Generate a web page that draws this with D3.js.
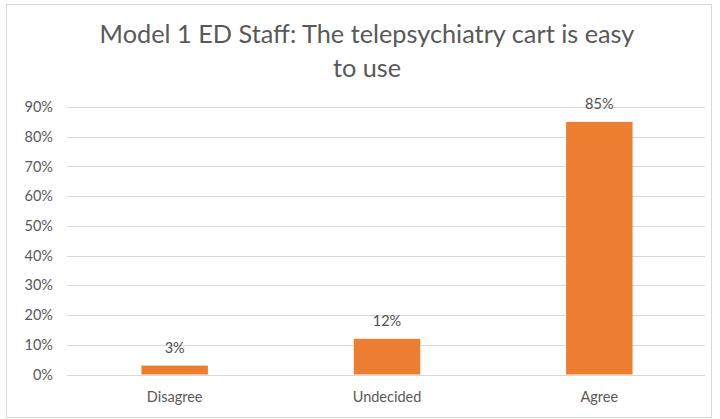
<!DOCTYPE html>
<html>
<head>
<meta charset="utf-8">
<script src="https://cdn.jsdelivr.net/npm/d3@7"></script>
<style>
  html, body { margin: 0; padding: 0; background: #fff; }
  svg { display: block; }
  text { font-family: Lato, "Open Sans", sans-serif; }
</style>
</head>
<body>
<svg id="chart" width="720" height="419"></svg>
<script>
const categories = ["Disagree", "Undecided", "Agree"];
const values = [0.03, 0.12, 0.85];
const valueLabels = ["3%", "12%", "85%"];
const yTicks = [0, 0.1, 0.2, 0.3, 0.4, 0.5, 0.6, 0.7, 0.8, 0.9];
const titleLines = ["Model 1 ED Staff: The telepsychiatry cart is easy", "to use"];

const svg = d3.select("#chart");
const plot = { left: 67, right: 705, top: 107, bottom: 374.5 };

// outer border
svg.append("rect").attr("x", 6.5).attr("y", 4.5).attr("width", 705).attr("height", 413)
  .attr("fill", "#fff").attr("stroke", "#d9d9d9").attr("stroke-width", 1);

const x = d3.scaleBand().domain(categories).range([plot.left + 1.5, plot.right + 0.5])
  .paddingInner(0.687).paddingOuter(0.3435);
const y = d3.scaleLinear().domain([0, 0.9]).range([plot.bottom, plot.top]);

// gridlines
svg.append("g").selectAll("line").data(yTicks).join("line")
  .attr("x1", plot.left).attr("x2", plot.right)
  .attr("y1", d => Math.round(y(d)) + 0.5).attr("y2", d => Math.round(y(d)) + 0.5)
  .attr("stroke", "#d9d9d9").attr("stroke-width", 1);

// y axis labels
const yAxis = d3.axisLeft(y).tickValues(yTicks).tickFormat(d3.format(".0%")).tickSize(0).tickPadding(0);
const gy = svg.append("g").attr("transform", `translate(${plot.left - 14},0)`).call(yAxis);
gy.select(".domain").remove();
gy.selectAll("text").attr("fill", "#595959").style("font-size", "14.5px")
  .style("font-family", "Lato, 'Open Sans', sans-serif");

// bars
svg.append("g").selectAll("rect").data(values).join("rect")
  .attr("x", (d, i) => x(categories[i]))
  .attr("width", x.bandwidth())
  .attr("y", d => y(d))
  .attr("height", d => y(0) - y(d))
  .attr("fill", "#ed7d31");

// value labels
svg.append("g").selectAll("text").data(values).join("text")
  .attr("x", (d, i) => x(categories[i]) + x.bandwidth() / 2)
  .attr("y", d => y(d) - 13)
  .attr("text-anchor", "middle")
  .attr("fill", "#505050")
  .style("font-size", "14.5px")
  .text((d, i) => valueLabels[i]);

// x axis labels
const xAxis = d3.axisBottom(x).tickSize(0).tickPadding(0);
const gx = svg.append("g").attr("transform", `translate(0,${plot.bottom + 17})`).call(xAxis);
gx.select(".domain").remove();
gx.selectAll("text").attr("fill", "#595959").style("font-size", "14.5px")
  .style("font-family", "Lato, 'Open Sans', sans-serif");

// title
svg.append("g").selectAll("text").data(titleLines).join("text")
  .attr("x", 367)
  .attr("y", (d, i) => 43 + i * 33.5)
  .attr("text-anchor", "middle")
  .attr("fill", "#595959")
  .style("font-size", "25.3px")
  .text(d => d);
</script>
</body>
</html>
